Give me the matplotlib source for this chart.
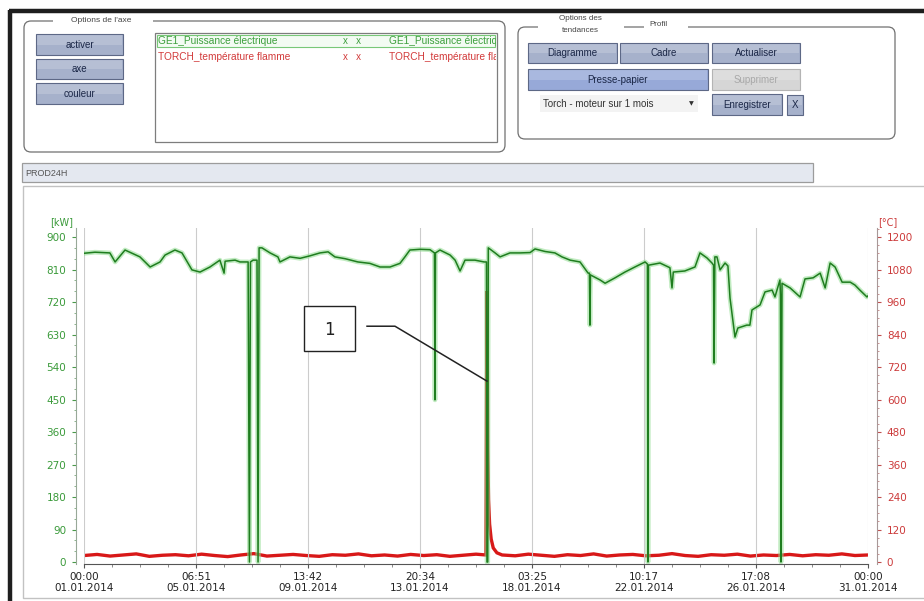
import numpy as np
import matplotlib
matplotlib.use("Agg")
import matplotlib.pyplot as plt
from matplotlib.patches import FancyBboxPatch, Rectangle
from matplotlib.ticker import AutoMinorLocator

# ---------------------------------
# TREND DATA (January 2014, days since 01.01 00:00)
# ---------------------------------

x_tick_labels = ["00:00\n01.01.2014", "06:51\n05.01.2014", "13:42\n09.01.2014",
                 "20:34\n13.01.2014", "03:25\n18.01.2014", "10:17\n22.01.2014",
                 "17:08\n26.01.2014", "00:00\n31.01.2014"]
kw_ticks = [0, 90, 180, 270, 360, 450, 540, 630, 720, 810, 900]
degc_ticks = [0, 120, 240, 360, 480, 600, 720, 840, 960, 1080, 1200]

# GE1 electrical power [kW]
power_days = [0.00, 0.42, 0.99, 1.19, 1.57, 2.14, 2.53, 2.91, 3.10, 3.48, 3.75,
              4.13, 4.44, 4.82, 5.20, 5.36, 5.40, 5.78, 5.97, 6.28, 6.33, 6.37,
              6.47, 6.62, 6.66, 6.70, 6.81, 7.12, 7.42, 7.50, 7.88, 8.27, 8.65,
              9.03, 9.34, 9.60, 9.99, 10.48, 10.94, 11.33, 11.71, 12.09, 12.28,
              12.47, 12.86, 13.24, 13.41, 13.43, 13.45, 13.62, 14.01, 14.20,
              14.39, 14.58, 14.96, 15.31, 15.40, 15.42, 15.45, 15.47, 15.73,
              15.92, 16.30, 16.68, 17.07, 17.26, 17.64, 18.02, 18.29, 18.60,
              18.98, 19.29, 19.34, 19.36, 19.38, 19.75, 19.94, 20.32, 20.70,
              21.08, 21.47, 21.56, 21.58, 21.60, 22.04, 22.42, 22.50, 22.55,
              22.99, 23.38, 23.57, 23.84, 24.03, 24.09, 24.11, 24.14, 24.22,
              24.34, 24.53, 24.64, 24.72, 24.91, 25.02, 25.36, 25.48, 25.56,
              25.87, 26.06, 26.33, 26.44, 26.63, 26.65, 26.67, 26.71, 27.02,
              27.40, 27.59, 27.90, 28.17, 28.36, 28.55, 28.74, 29.01, 29.32,
              29.50, 29.69, 29.96, 30.00]
power_kw = [855, 858, 856, 831, 864, 845, 817, 831, 850, 864, 856,
            809, 803, 817, 836, 800, 833, 836, 831, 831, 0, 831,
            836, 836, 0, 870, 870, 856, 845, 831, 845, 841, 848,
            856, 859, 845, 840, 831, 827, 817, 817, 827, 845,
            864, 866, 865, 856, 449, 856, 864, 850, 836,
            806, 836, 836, 831, 831, 0, 0, 870, 856,
            845, 856, 856, 857, 867, 860, 856, 845, 836,
            831, 800, 800, 656, 795, 781, 772, 787, 803,
            817, 831, 825, 0, 822, 828, 815, 759, 803,
            806, 817, 856, 842, 828, 822, 551, 845, 845,
            809, 828, 820, 731, 623, 648, 656, 656, 698,
            712, 748, 753, 734, 781, 740, 0, 772, 759,
            734, 784, 787, 800, 759, 828, 817, 775, 775,
            767, 753, 734, 737]

# TORCH flame temperature [°C]
temp_days = [0.0, 0.5, 1.0, 1.5, 2.0, 2.5, 3.0, 3.5, 4.0, 4.5, 5.0, 5.5, 6.0,
             6.5, 7.0, 7.5, 8.0, 8.5, 9.0, 9.5, 10.0, 10.5, 11.0, 11.5, 12.0,
             12.5, 13.0, 13.5, 14.0, 14.5, 15.0, 15.38, 15.42, 15.45, 15.48,
             15.52, 15.58, 15.66, 15.8, 16.0, 16.5, 17.0, 17.5, 18.0, 18.5,
             19.0, 19.5, 20.0, 20.5, 21.0, 21.5, 22.0, 22.5, 23.0, 23.5, 24.0,
             24.5, 25.0, 25.5, 26.0, 26.5, 27.0, 27.5, 28.0, 28.5, 29.0, 29.5,
             30.0]
temp_c = [24, 28, 22, 26, 30, 21, 25, 27, 23, 29, 24, 20, 26,
          31, 22, 25, 28, 24, 21, 27, 25, 30, 23, 26, 22,
          28, 24, 27, 21, 25, 29, 26, 1000, 420, 230,
          140, 85, 52, 34, 26, 23, 29, 25, 21, 27,
          24, 30, 22, 26, 28, 23, 25, 31, 24, 21, 27,
          25, 29, 22, 26, 24, 28, 23, 27, 25, 30, 24,
          26]

series_names = ["GE1_Puissance électrique", "TORCH_température flamme"]

W, H = 924, 601
fig = plt.figure(figsize=(W / 100, H / 100), dpi=100)
fig.patch.set_facecolor("white")

# full-size overlay in pixel units for the window furniture
ui = fig.add_axes([0, 0, 1, 1])
ui.set_xlim(0, W)
ui.set_ylim(H, 0)
ui.axis("off")

UI_FONT = "Liberation Sans"
GREEN_TXT = "#3a9a3a"
RED_TXT = "#cc3a3a"


def button(x, y, w, h, label, face="#a6b1cb", edge="#5d6886", color="#1b2747"):
    ui.add_patch(Rectangle((x, y), w, h, facecolor=face, edgecolor=edge, lw=0.8))
    ui.add_patch(Rectangle((x + 1, y + 1), w - 2, h / 2 - 1, facecolor="white",
                           edgecolor="none", alpha=0.18))
    ui.text(x + w / 2, y + h / 2 + 0.5, label, ha="center", va="center",
            fontsize=7, color=color, family=UI_FONT)


def group(x, y, w, h):
    ui.add_patch(FancyBboxPatch((x, y), w, h, boxstyle="round,pad=0,rounding_size=7",
                                fc="none", ec="#707070", lw=0.9))


# window frame
ui.plot([10, 10], [10, H], color="#1e1e1e", lw=3.2, solid_capstyle="butt")
ui.plot([9, W], [11, 11], color="#1e1e1e", lw=3.2, solid_capstyle="butt")

# --- Options de l'axe
group(24, 21, 481, 131)
ui.add_patch(Rectangle((53, 17), 100, 8, fc="white", ec="none"))
ui.text(101, 20, "Options de l'axe", ha="center", va="center", fontsize=6,
        color="#444444", family=UI_FONT)
button(36, 34, 87, 21, "activer")
button(36, 59, 87, 20, "axe")
button(36, 83, 87, 21, "couleur")

ui.add_patch(Rectangle((155, 33), 342, 109, fc="white", ec="#7d7d7d", lw=0.9))
ui.add_patch(Rectangle((157, 35), 338, 12, fc="#f3fbf3", ec="#78c878", lw=0.8))

lst = fig.add_axes([156 / W, 1 - 142 / H, 340 / W, 108 / H])
lst.set_xlim(156, 496)
lst.set_ylim(142, 34)
lst.axis("off")
row_colors = ["#3d9f3d", "#d23a3a"]
for i, (name, col) in enumerate(zip(series_names, row_colors)):
    yy = 41 + i * 16
    lst.text(158, yy, name, va="center", fontsize=7.3, color=col, family=UI_FONT, clip_on=True)
    lst.text(343, yy, "x   x", va="center", fontsize=7, color=col, family=UI_FONT, clip_on=True)
    lst.text(389, yy, name, va="center", fontsize=7.3, color=col, family=UI_FONT, clip_on=True)

# --- Options des tendances / Profil
group(518, 27, 377, 112)
ui.add_patch(Rectangle((538, 14), 86, 20, fc="white", ec="none"))
ui.add_patch(Rectangle((644, 20), 44, 10, fc="white", ec="none"))
ui.text(580, 19, "Options des", ha="center", va="center", fontsize=5.8, color="#444444", family=UI_FONT)
ui.text(580, 31, "tendances", ha="center", va="center", fontsize=5.8, color="#444444", family=UI_FONT)
ui.text(658, 25, "Profil", ha="center", va="center", fontsize=5.8, color="#444444", family=UI_FONT)
button(528, 43, 89, 20, "Diagramme")
button(620, 43, 88, 20, "Cadre")
button(712, 43, 88, 20, "Actualiser")
button(528, 69, 180, 21, "Presse-papier", face="#97a9d8")
button(712, 69, 88, 21, "Supprimer", face="#d6d6d6", edge="#b4b4b4", color="#a8a8a8")
ui.add_patch(Rectangle((540, 95), 158, 17, fc="#f3f3f3", ec="none"))
ui.text(543, 104, "Torch - moteur sur 1 mois", va="center", fontsize=7, color="#333333", family=UI_FONT)
ui.text(691, 104, "▼", ha="center", va="center", fontsize=4.5, color="#333333")
button(712, 94, 70, 21, "Enregistrer")
button(787, 95, 16, 20, "X")

# --- chart panel
ui.add_patch(Rectangle((22, 163), 791, 19, fc="#e4e8f0", ec="#9c9c9c", lw=0.9))
ui.text(25, 173, "PROD24H", va="center", fontsize=6.5, color="#555555", family=UI_FONT)
ui.add_patch(Rectangle((23, 186), 930, 412, fc="white", ec="#c2c2c2", lw=1.0))
ui.text(62, 222, "[kW]", ha="center", va="center", fontsize=7, color=GREEN_TXT)
ui.text(888, 222, "[°C]", ha="center", va="center", fontsize=7, color=RED_TXT)

# ---------------------------------
# TREND AXES
# ---------------------------------
ax = fig.add_axes([84 / W, 1 - 564 / H, (868 - 84) / W, (564 - 228) / H])
tw = ax.twinx()
ax.set_zorder(tw.get_zorder() + 1)
ax.patch.set_visible(False)

# spines first: moving a spine resets its axis ticks
for a in (ax, tw):
    a.spines["top"].set_visible(False)
ax.spines["right"].set_visible(False)
tw.spines["left"].set_visible(False)
tw.spines["bottom"].set_visible(False)
ax.spines["left"].set_position(("outward", 5.8))
ax.spines["left"].set_color("#98a898")
tw.spines["right"].set_position(("outward", 6.5))
tw.spines["right"].set_color("#a89898")
ax.spines["bottom"].set_color("#555555")

tw.plot(temp_days, temp_c, color="#d81818", lw=2.4, solid_joinstyle="miter")

ax.plot(power_days, power_kw, color="#8fdc8f", lw=3.4, alpha=0.55)
ax.plot(power_days, power_kw, color="#1f7d1f", lw=1.1)

ax.set_xlim(0, 30)
ax.set_ylim(-5.5, 925)
tw.set_ylim(-7.3, 1233.3)

ax.set_xticks(np.linspace(0, 30, len(x_tick_labels)))
ax.set_xticklabels(x_tick_labels, linespacing=1.05)
ax.xaxis.set_minor_locator(AutoMinorLocator(4))
ax.set_yticks(kw_ticks)
ax.set_yticklabels([str(v) for v in kw_ticks])
ax.yaxis.set_minor_locator(AutoMinorLocator(3))
tw.set_yticks(degc_ticks)
tw.set_yticklabels([str(v) for v in degc_ticks])
tw.yaxis.set_minor_locator(AutoMinorLocator(4))

ax.grid(axis="x", color="#cccccc", lw=0.8)
ax.set_axisbelow(True)

ax.tick_params(axis="x", which="major", length=3, pad=3, color="#555555",
               labelsize=7.5, labelcolor="#222222")
ax.tick_params(axis="x", which="minor", length=2, color="#777777")
ax.tick_params(axis="y", which="major", length=3, pad=4, color="#4a9a4a",
               labelsize=7.5, labelcolor=GREEN_TXT)
ax.tick_params(axis="y", which="minor", length=1.5, color="#7aaa7a")
tw.tick_params(axis="y", which="major", length=3, pad=4, color="#c05050",
               labelsize=7.5, labelcolor=RED_TXT)
tw.tick_params(axis="y", which="minor", length=1.5, color="#c08080")

# callout "1" on the temperature spike
spike_day = temp_days[int(np.argmax(temp_c))]
ax.add_patch(Rectangle((8.42, 584), 1.95, 125, fc="white", ec="#222222", lw=1.0, zorder=6))
ax.text(9.4, 643, "1", ha="center", va="center", fontsize=12, color="#222222", zorder=7)
ax.plot([10.83, 11.90, spike_day], [653, 653, 501], color="#222222", lw=1.1, zorder=6)

fig.savefig("out.png", dpi=100)
